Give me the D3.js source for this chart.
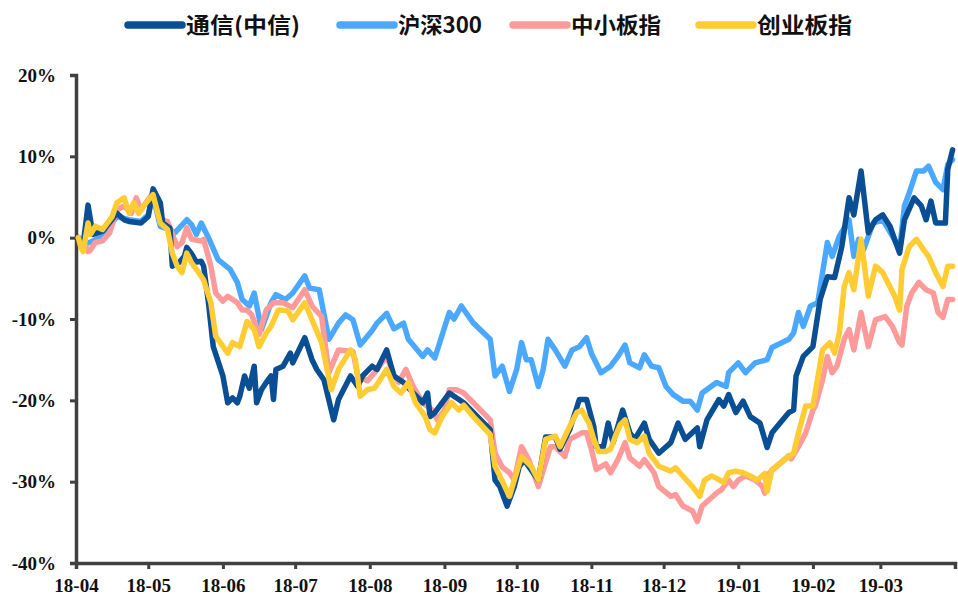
<!DOCTYPE html>
<html>
<head>
<meta charset="utf-8">
<script src="https://cdn.jsdelivr.net/npm/d3@7"></script>
<style>
  html, body { margin: 0; padding: 0; background: #fff; }
  svg { display: block; }
</style>
</head>
<body>
<svg id="chart" width="958" height="596"></svg>
<script>
// Cumulative return (%) since 2018-04-02, sampled at turning points.
const telecom = [["2018-04-02",0],["2018-04-04",-0.8],["2018-04-06",4.0],["2018-04-08",0.4],["2018-04-12",0.8],["2018-04-18",3.0],["2018-04-21",2.2],["2018-04-23",2.0],["2018-04-28",1.8],["2018-05-01",2.6],["2018-05-03",6.0],["2018-05-06",4.3],["2018-05-07",1.8],["2018-05-10",1.2],["2018-05-11",-3.5],["2018-05-14",-3.0],["2018-05-16",-2.3],["2018-05-17",-1.2],["2018-05-19",-2.0],["2018-05-21",-3.0],["2018-05-23",-2.9],["2018-05-24",-3.5],["2018-05-26",-8.0],["2018-05-28",-13.4],["2018-06-01",-17.0],["2018-06-03",-20.3],["2018-06-05",-19.7],["2018-06-07",-20.3],["2018-06-08",-19.5],["2018-06-10",-17.0],["2018-06-12",-18.5],["2018-06-14",-15.8],["2018-06-15",-20.3],["2018-06-17",-18.7],["2018-06-19",-17.8],["2018-06-21",-17.0],["2018-06-22",-19.9],["2018-06-23",-16.2],["2018-06-26",-15.8],["2018-06-29",-14.2],["2018-06-30",-15.4],["2018-07-05",-12.3],["2018-07-08",-15.0],["2018-07-10",-16.2],["2018-07-13",-17.5],["2018-07-17",-22.4],["2018-07-19",-19.9],["2018-07-24",-17.0],["2018-07-27",-18.3],["2018-07-29",-17.0],["2018-08-02",-15.8],["2018-08-04",-16.2],["2018-08-08",-13.8],["2018-08-11",-17.0],["2018-08-15",-17.8],["2018-08-19",-19.1],["2018-08-23",-20.3],["2018-08-25",-19.1],["2018-08-26",-22.0],["2018-08-28",-21.5],["2018-09-03",-19.1],["2018-09-09",-20.3],["2018-09-20",-23.6],["2018-09-22",-29.8],["2018-09-24",-30.6],["2018-09-27",-33.0],["2018-09-30",-30.6],["2018-10-02",-28.2],["2018-10-04",-27.3],["2018-10-10",-29.8],["2018-10-13",-24.5],["2018-10-17",-24.5],["2018-10-19",-26.0],["2018-10-23",-23.6],["2018-10-27",-19.9],["2018-10-30",-19.9],["2018-11-02",-23.2],["2018-11-03",-25.7],["2018-11-06",-25.7],["2018-11-08",-22.8],["2018-11-10",-25.2],["2018-11-14",-21.2],["2018-11-17",-24.0],["2018-11-19",-24.8],["2018-11-23",-22.8],["2018-11-25",-24.8],["2018-11-29",-26.5],["2018-12-04",-25.2],["2018-12-07",-22.8],["2018-12-10",-24.8],["2018-12-15",-23.4],["2018-12-16",-25.7],["2018-12-19",-22.4],["2018-12-24",-19.9],["2018-12-26",-20.7],["2018-12-28",-19.3],["2018-12-31",-21.5],["2019-01-03",-20.1],["2019-01-06",-22.0],["2019-01-10",-22.8],["2019-01-13",-25.8],["2019-01-15",-24.0],["2019-01-22",-21.5],["2019-01-24",-21.2],["2019-01-25",-17.0],["2019-01-28",-14.6],["2019-02-01",-13.4],["2019-02-04",-7.6],["2019-02-07",-4.8],["2019-02-10",-4.9],["2019-02-13",-1.1],["2019-02-16",4.9],["2019-02-18",2.8],["2019-02-21",8.2],["2019-02-24",0.6],["2019-02-27",2.2],["2019-03-02",2.8],["2019-03-05",1.4],["2019-03-09",-1.9],["2019-03-11",2.2],["2019-03-15",4.9],["2019-03-18",3.9],["2019-03-20",2.2],["2019-03-22",4.5],["2019-03-24",1.8],["2019-03-28",1.8],["2019-03-29",8.4],["2019-03-31",10.8]];

const hs300 = [["2018-04-02",0],["2018-04-04",-0.9],["2018-04-08",-0.4],["2018-04-12",0.2],["2018-04-18",2.6],["2018-04-23",2.2],["2018-04-28",2.0],["2018-05-01",2.8],["2018-05-03",5.1],["2018-05-06",1.4],["2018-05-10",1.0],["2018-05-12",0.6],["2018-05-17",2.2],["2018-05-19",1.6],["2018-05-21",0.4],["2018-05-23",1.8],["2018-05-26",0.0],["2018-05-30",-2.7],["2018-06-04",-3.9],["2018-06-07",-5.5],["2018-06-09",-7.6],["2018-06-12",-8.4],["2018-06-14",-6.8],["2018-06-17",-11.3],["2018-06-21",-8.0],["2018-06-23",-7.0],["2018-06-27",-7.6],["2018-06-30",-6.8],["2018-07-05",-4.7],["2018-07-07",-6.2],["2018-07-11",-6.4],["2018-07-15",-12.5],["2018-07-19",-10.5],["2018-07-22",-9.5],["2018-07-25",-10.1],["2018-07-28",-13.2],["2018-08-02",-11.4],["2018-08-04",-10.5],["2018-08-08",-9.3],["2018-08-11",-11.2],["2018-08-15",-10.5],["2018-08-17",-12.5],["2018-08-23",-14.6],["2018-08-25",-13.8],["2018-08-28",-14.8],["2018-08-31",-12.0],["2018-09-03",-9.2],["2018-09-05",-10.0],["2018-09-08",-8.4],["2018-09-13",-10.5],["2018-09-20",-12.5],["2018-09-22",-17.0],["2018-09-25",-15.8],["2018-09-28",-18.9],["2018-10-01",-16.2],["2018-10-03",-12.9],["2018-10-05",-15.0],["2018-10-07",-15.0],["2018-10-10",-18.3],["2018-10-12",-16.2],["2018-10-14",-12.5],["2018-10-17",-13.8],["2018-10-21",-15.8],["2018-10-24",-13.8],["2018-10-27",-13.4],["2018-10-30",-12.3],["2018-11-01",-14.2],["2018-11-05",-16.6],["2018-11-09",-15.8],["2018-11-12",-14.6],["2018-11-15",-13.2],["2018-11-17",-15.4],["2018-11-21",-16.0],["2018-11-23",-14.4],["2018-11-26",-15.8],["2018-11-29",-16.0],["2018-12-02",-18.3],["2018-12-05",-19.3],["2018-12-09",-20.1],["2018-12-12",-20.1],["2018-12-15",-21.2],["2018-12-17",-19.1],["2018-12-23",-17.8],["2018-12-27",-18.3],["2018-12-28",-16.6],["2019-01-01",-15.4],["2019-01-04",-16.6],["2019-01-08",-15.4],["2019-01-13",-15.0],["2019-01-15",-13.5],["2019-01-22",-12.5],["2019-01-24",-11.7],["2019-01-26",-9.2],["2019-01-28",-10.9],["2019-01-31",-8.4],["2019-02-03",-8.0],["2019-02-07",-0.6],["2019-02-09",-2.3],["2019-02-12",0.2],["2019-02-16",2.2],["2019-02-18",-2.3],["2019-02-20",-0.2],["2019-02-22",-1.5],["2019-02-26",1.8],["2019-03-02",2.2],["2019-03-06",0.2],["2019-03-09",-1.5],["2019-03-11",3.9],["2019-03-13",5.5],["2019-03-16",8.2],["2019-03-19",8.2],["2019-03-21",8.8],["2019-03-24",6.8],["2019-03-27",5.9],["2019-03-29",9.0],["2019-03-31",9.6]];

const sme = [["2018-04-02",0],["2018-04-04",-0.5],["2018-04-06",-1.7],["2018-04-07",-1.5],["2018-04-09",-0.6],["2018-04-12",-0.4],["2018-04-15",0.6],["2018-04-18",3.4],["2018-04-21",3.9],["2018-04-24",3.0],["2018-04-26",4.9],["2018-04-28",3.4],["2018-05-02",5.1],["2018-05-04",4.7],["2018-05-06",2.2],["2018-05-09",2.0],["2018-05-10",1.2],["2018-05-13",-1.1],["2018-05-15",-0.6],["2018-05-17",1.2],["2018-05-19",-0.2],["2018-05-23",-0.4],["2018-05-24",-0.2],["2018-05-27",-3.5],["2018-05-29",-6.8],["2018-06-01",-7.8],["2018-06-03",-7.2],["2018-06-07",-8.0],["2018-06-09",-8.9],["2018-06-11",-8.9],["2018-06-13",-9.5],["2018-06-16",-11.9],["2018-06-19",-8.9],["2018-06-22",-8.0],["2018-06-26",-8.0],["2018-06-30",-8.6],["2018-07-05",-6.4],["2018-07-08",-8.4],["2018-07-12",-9.7],["2018-07-15",-16.6],["2018-07-19",-13.8],["2018-07-25",-14.0],["2018-07-27",-17.0],["2018-07-31",-17.6],["2018-08-03",-16.6],["2018-08-08",-14.6],["2018-08-11",-16.8],["2018-08-13",-17.8],["2018-08-16",-16.2],["2018-08-19",-18.3],["2018-08-23",-20.3],["2018-08-27",-21.2],["2018-08-29",-22.4],["2018-09-01",-21.2],["2018-09-03",-18.7],["2018-09-06",-18.7],["2018-09-09",-19.1],["2018-09-13",-20.3],["2018-09-20",-22.4],["2018-09-22",-26.5],["2018-09-25",-28.2],["2018-09-28",-28.9],["2018-09-30",-29.8],["2018-10-03",-25.7],["2018-10-06",-27.3],["2018-10-10",-30.6],["2018-10-15",-25.7],["2018-10-17",-25.7],["2018-10-21",-26.9],["2018-10-23",-24.8],["2018-10-28",-24.0],["2018-10-30",-24.0],["2018-11-01",-26.0],["2018-11-03",-28.5],["2018-11-07",-27.8],["2018-11-09",-28.9],["2018-11-12",-27.3],["2018-11-15",-25.2],["2018-11-17",-27.1],["2018-11-21",-28.1],["2018-11-23",-27.3],["2018-11-27",-28.9],["2018-11-29",-30.6],["2018-12-04",-31.8],["2018-12-06",-31.6],["2018-12-09",-33.0],["2018-12-13",-33.6],["2018-12-15",-34.9],["2018-12-17",-33.0],["2018-12-20",-32.2],["2018-12-23",-31.4],["2018-12-25",-31.0],["2018-12-28",-29.8],["2018-12-30",-30.6],["2019-01-01",-29.8],["2019-01-04",-29.3],["2019-01-08",-29.8],["2019-01-11",-30.6],["2019-01-12",-31.4],["2019-01-14",-28.9],["2019-01-22",-26.8],["2019-01-23",-27.2],["2019-01-26",-25.7],["2019-01-29",-24.0],["2019-02-01",-21.2],["2019-02-02",-20.7],["2019-02-05",-17.5],["2019-02-07",-14.6],["2019-02-09",-16.6],["2019-02-11",-15.8],["2019-02-14",-12.5],["2019-02-16",-11.3],["2019-02-18",-13.8],["2019-02-21",-9.2],["2019-02-24",-13.4],["2019-02-27",-10.1],["2019-03-03",-9.7],["2019-03-06",-10.9],["2019-03-09",-12.9],["2019-03-10",-13.2],["2019-03-12",-8.4],["2019-03-14",-6.8],["2019-03-17",-5.5],["2019-03-20",-6.4],["2019-03-23",-6.8],["2019-03-25",-9.2],["2019-03-27",-9.8],["2019-03-29",-7.6],["2019-03-31",-7.6]];

const chinext = [["2018-04-02",0],["2018-04-03",-1.2],["2018-04-04",-1.7],["2018-04-06",1.8],["2018-04-07",0.4],["2018-04-09",1.4],["2018-04-12",1.0],["2018-04-16",2.6],["2018-04-18",4.3],["2018-04-21",4.9],["2018-04-23",3.0],["2018-04-25",4.3],["2018-04-27",3.0],["2018-04-29",3.9],["2018-05-03",5.3],["2018-05-06",1.8],["2018-05-09",1.0],["2018-05-11",-1.9],["2018-05-13",-3.5],["2018-05-15",-4.3],["2018-05-17",-1.9],["2018-05-19",-3.1],["2018-05-22",-4.3],["2018-05-24",-5.2],["2018-05-27",-8.0],["2018-05-29",-12.1],["2018-06-03",-14.2],["2018-06-05",-12.9],["2018-06-08",-13.4],["2018-06-11",-10.3],["2018-06-14",-11.3],["2018-06-16",-13.4],["2018-06-19",-11.7],["2018-06-21",-10.9],["2018-06-24",-8.9],["2018-06-28",-9.0],["2018-06-30",-10.1],["2018-07-05",-8.0],["2018-07-08",-10.1],["2018-07-12",-12.9],["2018-07-16",-18.7],["2018-07-19",-16.2],["2018-07-24",-13.8],["2018-07-26",-15.0],["2018-07-28",-19.5],["2018-07-31",-18.7],["2018-08-03",-18.5],["2018-08-08",-16.2],["2018-08-11",-18.3],["2018-08-14",-19.1],["2018-08-17",-17.8],["2018-08-20",-20.3],["2018-08-24",-22.0],["2018-08-26",-23.6],["2018-08-28",-24.0],["2018-08-31",-22.0],["2018-09-04",-20.3],["2018-09-07",-21.2],["2018-09-09",-20.6],["2018-09-13",-22.0],["2018-09-20",-24.2],["2018-09-22",-28.1],["2018-09-24",-29.3],["2018-09-28",-31.8],["2018-09-30",-29.8],["2018-10-03",-26.9],["2018-10-07",-28.1],["2018-10-10",-29.8],["2018-10-13",-24.8],["2018-10-17",-24.4],["2018-10-19",-25.7],["2018-10-23",-23.2],["2018-10-26",-21.5],["2018-10-28",-21.2],["2018-10-31",-22.8],["2018-11-02",-24.8],["2018-11-04",-26.3],["2018-11-07",-26.3],["2018-11-09",-26.0],["2018-11-11",-24.4],["2018-11-13",-23.0],["2018-11-15",-22.4],["2018-11-17",-24.8],["2018-11-20",-25.2],["2018-11-23",-24.4],["2018-11-25",-26.5],["2018-11-29",-28.1],["2018-12-04",-28.7],["2018-12-06",-28.3],["2018-12-09",-29.3],["2018-12-13",-30.6],["2018-12-16",-31.8],["2018-12-18",-29.8],["2018-12-21",-29.3],["2018-12-23",-29.6],["2018-12-26",-30.1],["2018-12-28",-28.9],["2018-12-31",-28.7],["2019-01-03",-28.9],["2019-01-06",-29.3],["2019-01-09",-29.8],["2019-01-12",-29.0],["2019-01-13",-31.2],["2019-01-15",-28.5],["2019-01-22",-26.9],["2019-01-24",-26.5],["2019-01-26",-24.0],["2019-01-29",-20.7],["2019-02-01",-20.7],["2019-02-05",-13.8],["2019-02-08",-12.9],["2019-02-10",-14.2],["2019-02-12",-11.7],["2019-02-14",-6.0],["2019-02-16",-4.3],["2019-02-18",-6.4],["2019-02-21",-0.2],["2019-02-24",-7.2],["2019-02-27",-3.5],["2019-03-02",-4.3],["2019-03-07",-7.2],["2019-03-09",-8.9],["2019-03-10",-3.9],["2019-03-13",-1.1],["2019-03-16",-0.2],["2019-03-19",-1.5],["2019-03-21",-2.3],["2019-03-24",-4.3],["2019-03-27",-6.0],["2019-03-29",-3.5],["2019-03-31",-3.5]];

const seriesNames = ["通信(中信)", "沪深300", "中小板指", "创业板指"];
const seriesColors = ["#0A4F93", "#4AA8FF", "#FF9A9A", "#FFCC33"];
const monthTicks = ["2018-04-01","2018-05-01","2018-06-01","2018-07-01","2018-08-01","2018-09-01","2018-10-01","2018-11-01","2018-12-01","2019-01-01","2019-02-01","2019-03-01","2019-04-01"];
const monthLabels = ["18-04","18-05","18-06","18-07","18-08","18-09","18-10","18-11","18-12","19-01","19-02","19-03",""];
const yTicks = [-40, -30, -20, -10, 0, 10, 20];

const parse = d3.utcParse("%Y-%m-%d");
const svg = d3.select("#chart");

const x = d3.scaleUtc()
  .domain([parse("2018-04-01"), parse("2019-04-01")])
  .range([76, 955]);
const y = d3.scaleLinear().domain([-40, 20]).range([563, 75]);

const axisColor = "#404040";
const tickFont = "'Times New Roman', 'Liberation Serif', serif";

// Y axis
const gy = svg.append("g").attr("transform", "translate(76,0)")
  .call(d3.axisLeft(y).tickValues(yTicks).tickSize(6).tickPadding(14)
    .tickFormat(d => `${d}%`));
// X axis
const tickDates = monthTicks.map(parse);
const gx = svg.append("g").attr("transform", "translate(0,563)")
  .call(d3.axisBottom(x).tickValues(tickDates).tickSize(6).tickPadding(10)
    .tickFormat((d, i) => monthLabels[i]));

[gx, gy].forEach(g => {
  g.select(".domain").attr("stroke", axisColor).attr("stroke-width", 3.5);
  g.selectAll(".tick line").attr("stroke", axisColor).attr("stroke-width", 3);
  g.selectAll(".tick text")
    .attr("fill", "#111")
    .style("font-family", tickFont)
    .style("font-weight", "bold")
    .style("font-size", "19px");
});

// Lines (bottom to top)
const line = d3.line()
  .x(d => x(parse(d[0])))
  .y(d => y(d[1]));

const drawOrder = [
  { data: hs300, color: seriesColors[1] },
  { data: sme, color: seriesColors[2] },
  { data: telecom, color: seriesColors[0] },
  { data: chinext, color: seriesColors[3] }
];
svg.append("g").selectAll("path")
  .data(drawOrder)
  .join("path")
  .attr("d", s => line(s.data))
  .attr("fill", "none")
  .attr("stroke", s => s.color)
  .attr("stroke-width", 5.5)
  .attr("stroke-linejoin", "round")
  .attr("stroke-linecap", "round");

// Legend
const legendX = [128, 340, 513, 699];
const legendTextW = [114, 84, 90, 95];
const lg = svg.append("g");
seriesNames.forEach((name, i) => {
  lg.append("line")
    .attr("x1", legendX[i]).attr("x2", legendX[i] + 54)
    .attr("y1", 25).attr("y2", 25)
    .attr("stroke", seriesColors[i])
    .attr("stroke-width", 7.5)
    .attr("stroke-linecap", "round");
  lg.append("text")
    .attr("x", legendX[i] + 58)
    .attr("y", 33)
    .attr("textLength", legendTextW[i])
    .attr("lengthAdjust", "spacingAndGlyphs")
    .style("font-family", "'Noto Sans CJK SC', sans-serif")
    .style("font-weight", "bold")
    .style("font-size", "22px")
    .attr("fill", "#111")
    .text(name);
});
</script>
</body>
</html>
